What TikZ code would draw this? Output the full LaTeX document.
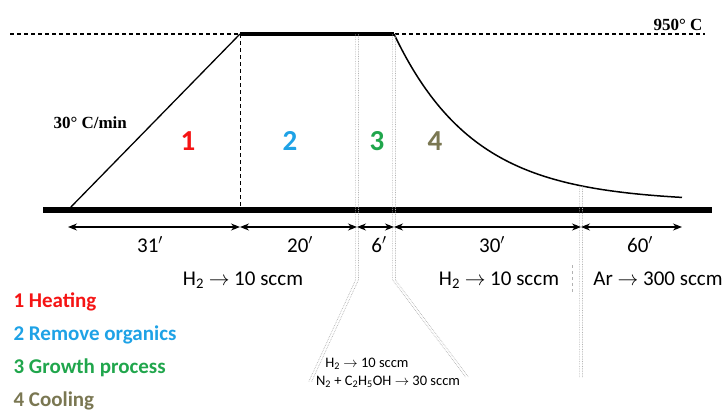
\documentclass[tikz,border=0pt]{standalone}
\usepackage{fontspec}
\setmainfont{Carlito}
\newfontfamily\timesfont{Liberation Serif}
\usetikzlibrary{arrows.meta}
\definecolor{heatred}{HTML}{F51414}
\definecolor{orgblue}{HTML}{1EA2E6}
\definecolor{growgreen}{HTML}{20A64C}
\definecolor{coololive}{HTML}{7A7752}
\begin{document}
\begin{tikzpicture}[x=1pt,y=-1pt,line join=round,font=\fontsize{21}{24}\selectfont,>={Stealth[length=9pt,width=7pt]},
  dim/.style={<->,line width=1.2pt},
  guide/.style={gray!60,line width=0.7pt,densely dotted},
  phase/.style={font=\fontsize{29}{32}\selectfont\bfseries,anchor=base},
  legend/.style={font=\fontsize{21}{24}\selectfont\bfseries,anchor=base west},
  small/.style={font=\fontsize{14.5}{16}\selectfont,anchor=base,inner sep=1pt},
  temp/.style={font=\fontsize{17}{19}\selectfont\timesfont\bfseries}]
\useasboundingbox (0,0) rectangle (724,410);
% key points of the temperature profile
\coordinate (start) at (68,210);
\coordinate (hotA) at (240,34);
\coordinate (hotB) at (394,34);
\coordinate (coldA) at (240,210);
% 950 C level and time axis
\draw[dashed,dash pattern=on 4pt off 3pt,line width=1.5pt] (10,34) -- (705,34);
\node[temp,anchor=base east] (hotlabel) at (706,30) {950° C};
\draw[line width=6.5pt] (43,210) -- (712,210);
% profile
\draw[line width=1.3pt] (start) -- (hotA);
\draw[line width=4.5pt] (hotA) -- (hotB);
\draw[line width=1.5pt,smooth,samples=60,domain=394:682] plot(\x,{202-168*exp(-(\x-394)/80)});
\draw[dashed,dash pattern=on 4pt off 3pt,line width=0.8pt] (hotA) -- (coldA);
\node[temp,anchor=base west] (rate) at (50,128) {30° C/min};
% gas switching guides
\coordinate (gA) at (357,34); \coordinate (gAb) at (357,280); \coordinate (gAe) at (310,382);
\coordinate (gB) at (394,34); \coordinate (gBb) at (394,280); \coordinate (gBe) at (467,377);
\coordinate (gC) at (581,186); \coordinate (gCe) at (581,378);
\foreach \s in {-1.4,1.4}
  \draw[guide] ([xshift=\s pt]gA) -- ([xshift=\s pt]gAb) -- ([xshift=\s pt]gAe)
    ([xshift=\s pt]gB) -- ([xshift=\s pt]gBb) -- ([xshift=\s pt]gBe)
    ([xshift=\s pt]gC) -- ([xshift=\s pt]gCe);
\draw[gray!60,line width=0.7pt,dashed] (572,265) -- (572,295);
% durations
\foreach \x [count=\i from 0] in {68,240,357,394,581,682} \coordinate (d\i) at (\x,227);
\draw[dim] (d0) -- (d1);
\draw[dim] (d1) -- (d2);
\draw[dim] (d2) -- (d3);
\draw[dim] (d3) -- (d4);
\draw[dim] (d4) -- (d5);
\foreach \x/\t [count=\i] in {150/31,300/20,379/6,492/30,640/60}
  \node[anchor=base] (time\i) at (\x,252) {\t$'$};
% gas flows
\node[anchor=base] (flowA) at (243,285) {H\textsubscript{2} $\rightarrow$ 10 sccm};
\node[anchor=base] (flowB) at (499,285) {H\textsubscript{2} $\rightarrow$ 10 sccm};
\node[anchor=base,inner sep=1pt] (flowC) at (658,285) {Ar $\rightarrow$ 300 sccm};
\node[small] (flowD) at (367,367) {H\textsubscript{2} $\rightarrow$ 10 sccm};
\node[small] (flowE) at (388,385) {N\textsubscript{2} + C\textsubscript{2}H\textsubscript{5}OH $\rightarrow$ 30 sccm};
% phases
\node[phase,heatred] (ph1) at (188,150) {1};
\node[phase,orgblue] (ph2) at (290,150) {2};
\node[phase,growgreen] (ph3) at (377,150) {3};
\node[phase,coololive] (ph4) at (435,150) {4};
\node[legend,heatred] (leg1) at (10,307) {1 Heating};
\node[legend,orgblue] (leg2) at (10,340) {2 Remove organics};
\node[legend,growgreen] (leg3) at (10,373) {3 Growth process};
\node[legend,coololive] (leg4) at (10,406) {4 Cooling};
\end{tikzpicture}
\end{document}
